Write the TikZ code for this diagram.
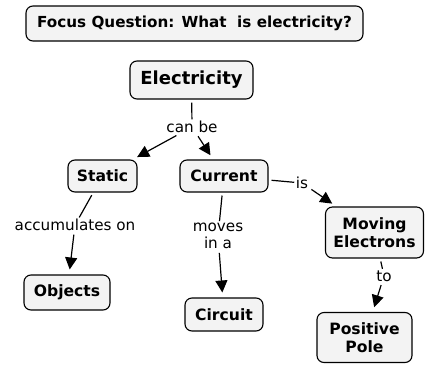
\documentclass[tikz,border=0pt]{standalone}
\usepackage{fontspec}
\setmainfont{DejaVu Sans}
\usetikzlibrary{arrows.meta}
\definecolor{boxfill}{HTML}{F3F3F3}
\tikzset{
  concept/.style={draw=black, line width=1.1pt, rounded corners=7pt, fill=boxfill,
    align=center, inner sep=0pt, font=\bfseries\fontsize{15.6}{18}\selectfont},
  lbl/.style={inner sep=1.5pt, align=center, font=\fontsize{15.2}{17.5}\selectfont},
  link/.style={line width=1.2pt, shorten <=3pt},
  arr/.style={line width=1.2pt, -{Triangle[length=12pt,width=12pt]}, shorten >=5pt, shorten <=2pt}
}
\begin{document}
\begin{tikzpicture}[x=1pt,y=-1pt]
\useasboundingbox (0,0) rectangle (425,364);
\node[concept, minimum width=337, minimum height=35, font=\bfseries\fontsize{15.2}{18}\selectfont] (focus) at (194.5,23.5) {Focus Question: What\ \ is electricity?};
\node[concept, minimum width=123, minimum height=38, font=\bfseries\fontsize{18}{21}\selectfont] (elec) at (191.5,80) {Electricity};
\node[concept, minimum width=69, minimum height=32] (static) at (102.5,176) {Static};
\node[concept, minimum width=88, minimum height=32] (current) at (224,176) {Current};
\node[concept, minimum width=98, minimum height=51] (moving) at (374.5,232.5) {Moving\\Electrons};
\node[concept, minimum width=86, minimum height=35] (objects) at (67,292.5) {Objects};
\node[concept, minimum width=78, minimum height=33] (circuit) at (224,314.5) {Circuit};
\node[concept, minimum width=95, minimum height=50] (positive) at (364.5,337.5) {Positive\\Pole};

\node[lbl] (canbe) at (192,127) {can be};
\node[lbl] (is) at (302,183) {is};
\node[lbl] (accum) at (75,225) {accumulates on};
\node[lbl] (moves) at (218,236) {moves\\in a};
\node[lbl] (to) at (384,276) {to};

\draw[link] (elec) -- (canbe);
\draw[arr] (canbe) -- (static);
\draw[arr] (canbe) -- (current);
\draw[link] (current) -- (is);
\draw[arr] (is) -- (moving);
\draw[link] (static) -- (accum);
\draw[arr] (accum) -- (objects);
\draw[link] (current) -- (moves);
\draw[arr] (moves) -- (circuit);
\draw[link] (moving) -- (to);
\draw[arr] (to) -- (positive);
\end{tikzpicture}
\end{document}
